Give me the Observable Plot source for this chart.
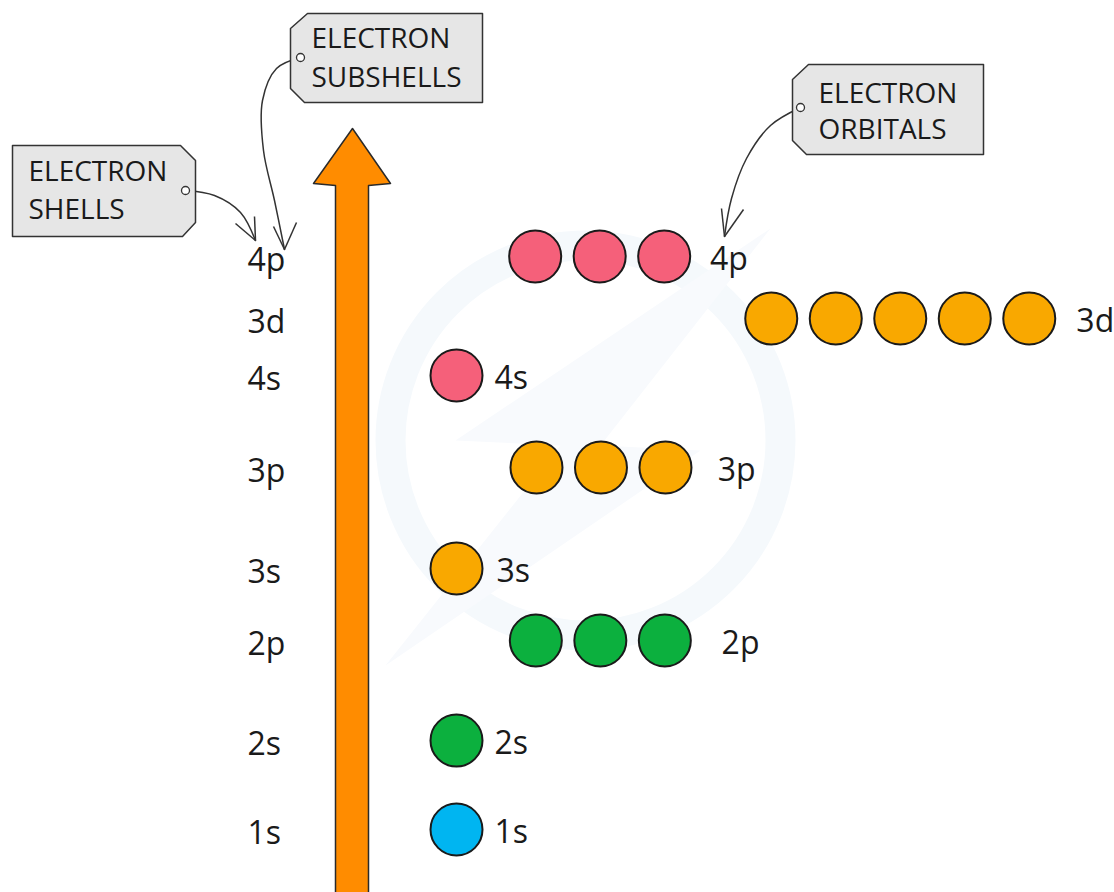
<!DOCTYPE html>
<html><head><meta charset="utf-8">
<script src="https://cdn.jsdelivr.net/npm/d3@7"></script>
<script src="https://cdn.jsdelivr.net/npm/@observablehq/plot@0.6"></script>
<style>
body{margin:0;background:#fff}
#chart svg{display:block;overflow:hidden}
</style>
</head><body><div id="chart"></div>
<script>
// ---- data ----
const subshells    = ["1s", "2s", "2p", "3s", "3p", "4s", "3d", "4p"];
const orbitalCount = [1, 1, 3, 1, 3, 1, 5, 3];
const energy       = [0.63, 1.52, 2.52, 3.24, 4.25, 5.17, 5.74, 6.36];   // relative energy level
const startSlot    = [0, 0, 1.23, 0, 1.24, 0, 4.88, 1.22];               // first orbital column
const labelGap     = [0.59, 0.59, 0.88, 0.62, 0.81, 0.59, 0.73, 0.71];
const colors       = ["#00b5f1", "#0cb03e", "#0cb03e", "#f9a800", "#f9a800", "#f5607a", "#f9a800", "#f5607a"];
const tagLines     = [["ELECTRON", "SHELLS"], ["ELECTRON", "SUBSHELLS"], ["ELECTRON", "ORBITALS"]];

// ---- layout helpers (page pixels -> scale units) ----
const W = 1114, H = 892;
const X0 = 456, DX = 64.5;
const sx = px => (px - X0) / DX;
const ey = py => (H - py) / 100;
const P = ([x, y]) => ({x: sx(x), y: ey(y)});

const orbitals = subshells.flatMap((s, i) =>
  d3.range(orbitalCount[i]).map(k => ({s, slot: startSlot[i] + k, e: energy[i], color: colors[i]})));
const rows = subshells.map((s, i) => ({s, e: energy[i], end: startSlot[i] + orbitalCount[i] - 1 + labelGap[i]}));

const arrowShape = [[335, 900], [335, 185], [313, 183], [352, 128], [390, 183], [368, 185], [368, 900]].map(P);

const tags = [
  {box: [[12,145],[180,145],[195,160],[195,222],[182,236],[12,236]],
   text: [28, 172, 210], hole: [185, 190],
   path: [[185,190],[214,195],[240,212],[255,240]],
   barbs: [[235,223],[254,216]], tip: [255,240]},
  {box: [[307,13],[482,13],[482,102],[304,102],[290,88],[290,28]],
   text: [311, 39, 78], hole: [300, 57],
   path: [[300,57],[276,68],[262,100],[263,150],[274,200],[284,249]],
   barbs: [[273,226],[296,222]], tip: [284,249]},
  {box: [[808,64],[983,64],[983,154],[806,154],[792,140],[792,79]],
   text: [818, 94, 130], hole: [800, 107],
   path: [[800,107],[770,125],[746,158],[731,198],[724,236]],
   barbs: [[721,208],[743,209]], tip: [724,236]}
];
const boxPts = tags.flatMap((t, i) => t.box.map(p => ({...P(p), id: i})));
const pathPts = tags.flatMap((t, i) => t.path.map(p => ({...P(p), id: i})));
const barbSegs = tags.flatMap((t, i) => t.barbs.map(b => ({x1: sx(t.tip[0]), y1: ey(t.tip[1]), x2: sx(b[0]), y2: ey(b[1])})));
const tagText = tags.flatMap((t, i) => [
  {x: sx(t.text[0]), y: ey(t.text[1]), label: tagLines[i][0]},
  {x: sx(t.text[0]), y: ey(t.text[2]), label: tagLines[i][1]}]);
const holes = tags.map(t => P(t.hole));

const font = "'Open Sans', sans-serif";

const chart = Plot.plot({
  width: W, height: H,
  margin: 0,
  x: {domain: [sx(0), sx(W)], axis: null},
  y: {domain: [ey(H), ey(0)], axis: null},
  style: {fontFamily: font, background: "#fff", color: "#1a1a1a"},
  marks: [
    // faint watermark ring and bolt
    Plot.dot([P([585, 440])], {x: "x", y: "y", r: 195, stroke: "#f5f9fc", strokeWidth: 30, fill: "none"}),
    Plot.line([[770,228],[455,440],[560,445],[385,665],[700,450],[600,445]].map(P),
      {x: "x", y: "y", curve: "linear-closed", fill: "#f8fafd", stroke: "none"}),
    // energy arrow
    Plot.line(arrowShape, {x: "x", y: "y", curve: "linear-closed", fill: "#ff8c00", stroke: "#2a2a2a", strokeWidth: 1.5}),
    // orbitals
    Plot.dot(orbitals, {x: "slot", y: "e", r: 26, fill: "color", stroke: "#1a1a1a", strokeWidth: 2}),
    Plot.text(rows, {x: "end", y: "e", text: "s", textAnchor: "start", dy: 3, fontSize: 32, fill: "#1a1a1a"}),
    Plot.text(rows, {x: () => sx(247), y: "e", text: "s", textAnchor: "start", dy: 4, fontSize: 32, fill: "#1a1a1a"}),
    // tags
    Plot.line(pathPts, {x: "x", y: "y", z: "id", curve: "catmull-rom", stroke: "#333", strokeWidth: 1.5}),
    Plot.link(barbSegs, {x1: "x1", y1: "y1", x2: "x2", y2: "y2", stroke: "#333", strokeWidth: 1.5}),
    Plot.line(boxPts, {x: "x", y: "y", z: "id", curve: "linear-closed", fill: "#e6e6e6", stroke: "#333", strokeWidth: 1.5}),
    Plot.dot(holes, {x: "x", y: "y", r: 4, fill: "#fff", stroke: "#333", strokeWidth: 1.3}),
    Plot.text(tagText, {x: "x", y: "y", text: "label", textAnchor: "start", fontSize: 28, fill: "#1a1a1a"})
  ]
});
document.getElementById("chart").append(chart);
</script>
</body></html>
